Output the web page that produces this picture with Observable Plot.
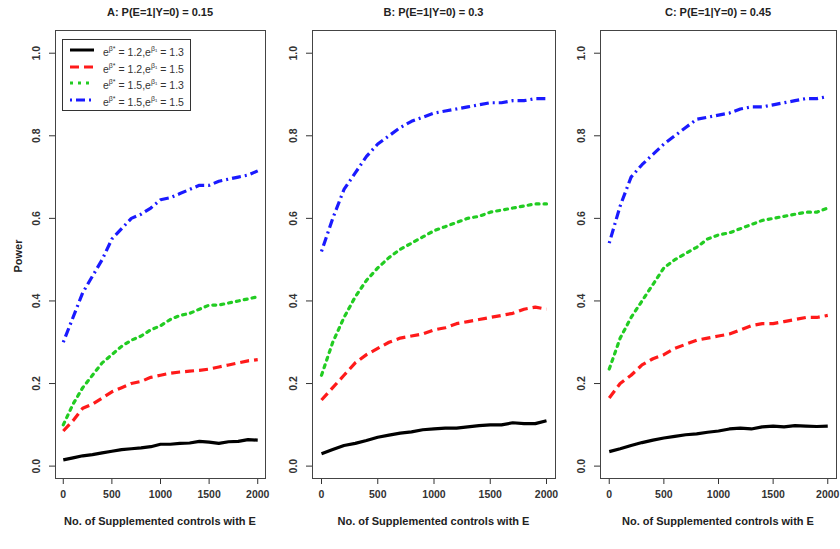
<!DOCTYPE html>
<html><head><meta charset="utf-8">
<script src="https://cdn.jsdelivr.net/npm/d3@7"></script>
<script src="https://cdn.jsdelivr.net/npm/@observablehq/plot@0.6"></script>
<style>
body{margin:0;background:#fff;font-family:"Liberation Sans",Arial,sans-serif;}
#wrap{position:relative;width:840px;height:549px;overflow:hidden;}
.t{position:absolute;font-weight:bold;font-size:11px;color:#222;white-space:nowrap;transform:translateX(-50%);}
#legend{position:absolute;left:62px;top:39px;border:1px solid #333;background:#fff;padding:2px 6px 2px 6px;font-size:10.5px;color:#333;line-height:13px;}
#legend div{display:flex;align-items:center;}
#legend svg{margin-right:8px}
</style></head><body>
<div id="wrap"></div>
<script>
const xs = d3.range(0, 2001, 100)
const series = ["s1", "s2", "s3", "s4"]
const seriesLabels = [
  ["1.2", "1.3"], ["1.2", "1.5"], ["1.5", "1.3"], ["1.5", "1.5"]
]
const panelTitles = ["A: P(E=1|Y=0) = 0.15", "B: P(E=1|Y=0) = 0.3", "C: P(E=1|Y=0) = 0.45"]
const panelA = [
  [0.015,0.02,0.025,0.028,0.032,0.036,0.04,0.042,0.044,0.047,0.053,0.053,0.055,0.056,0.06,0.058,0.055,0.059,0.06,0.064,0.063],
  [0.085,0.11,0.14,0.15,0.165,0.18,0.19,0.2,0.205,0.215,0.22,0.225,0.228,0.23,0.232,0.235,0.24,0.245,0.25,0.255,0.258],
  [0.1,0.15,0.19,0.22,0.25,0.27,0.29,0.305,0.315,0.33,0.34,0.355,0.365,0.37,0.38,0.39,0.39,0.395,0.4,0.405,0.41],
  [0.3,0.36,0.42,0.46,0.5,0.55,0.575,0.6,0.61,0.625,0.645,0.65,0.66,0.67,0.68,0.68,0.69,0.695,0.7,0.705,0.715]
]
const panelB = [
  [0.03,0.04,0.05,0.055,0.062,0.07,0.075,0.08,0.083,0.088,0.09,0.092,0.092,0.095,0.098,0.1,0.1,0.105,0.103,0.103,0.11],
  [0.16,0.19,0.22,0.25,0.27,0.285,0.3,0.31,0.315,0.32,0.33,0.335,0.345,0.35,0.355,0.36,0.365,0.37,0.38,0.385,0.38],
  [0.22,0.3,0.36,0.41,0.45,0.48,0.505,0.525,0.54,0.555,0.57,0.58,0.59,0.6,0.605,0.615,0.62,0.625,0.63,0.635,0.635],
  [0.52,0.6,0.67,0.71,0.75,0.78,0.8,0.82,0.835,0.845,0.855,0.86,0.865,0.87,0.875,0.88,0.88,0.885,0.885,0.89,0.89]
]
const panelC = [
  [0.035,0.042,0.05,0.057,0.063,0.068,0.072,0.076,0.078,0.082,0.085,0.09,0.092,0.09,0.095,0.097,0.095,0.098,0.097,0.096,0.097],
  [0.165,0.2,0.22,0.245,0.26,0.27,0.285,0.295,0.305,0.31,0.315,0.32,0.33,0.34,0.345,0.345,0.35,0.355,0.36,0.36,0.365],
  [0.235,0.31,0.36,0.4,0.44,0.48,0.5,0.515,0.53,0.55,0.56,0.565,0.575,0.585,0.595,0.6,0.605,0.61,0.615,0.615,0.625],
  [0.54,0.63,0.7,0.73,0.755,0.78,0.8,0.82,0.84,0.845,0.85,0.855,0.865,0.87,0.87,0.875,0.88,0.885,0.89,0.89,0.895]
]
const panels = [panelA, panelB, panelC]

const colors = ["#000000", "#ff1a1a", "#22cc22", "#1a1aff"]
const dashes = ["none", "9,5", "3,5", "2,4,9,4"]

// frame position of each panel [left, right]
const frames = [[55, 265], [312, 555], [600, 836]]
const wrap = document.getElementById("wrap")

panels.forEach((p, i) => {
  const [l, r] = frames[i]
  const left = l - 45
  const rows = p.flatMap((vals, k) => vals.map((v, j) => ({x: xs[j], y: v, s: k})))
  const chart = Plot.plot({
    width: r - left + 14, height: 549,
    marginLeft: 45, marginRight: 14, marginTop: 30, marginBottom: 71,
    style: {fontFamily: "Liberation Sans, Arial, sans-serif", fontSize: "10.5px", fontWeight: "bold", color: "#333", overflow: "visible"},
    x: {domain: [-80, 2080], ticks: [0, 500, 1000, 1500, 2000], tickFormat: d3.format("d"), label: null, tickSize: 6, tickPadding: 6},
    y: {domain: [-0.03, 1.055], ticks: [0, 0.2, 0.4, 0.6, 0.8, 1.0], tickFormat: d3.format(".1f"), label: null, tickRotate: -90, tickSize: 6, tickPadding: 10},
    marks: [
      Plot.frame({stroke: "#444"}),
      ...[0, 1, 2, 3].map(k => Plot.line(rows.filter(d => d.s === k), {
        x: "x", y: "y", stroke: colors[k], strokeWidth: 3.2,
        strokeDasharray: dashes[k], strokeLinecap: k === 2 ? "round" : "butt"
      }))
    ]
  })
  chart.style.position = "absolute"
  chart.style.left = left + "px"
  chart.style.top = "0px"
  wrap.appendChild(chart)

  const t = document.createElement("div")
  t.className = "t"; t.textContent = panelTitles[i]
  t.style.left = ((l + r) / 2) + "px"; t.style.top = "6px"
  wrap.appendChild(t)
  const xl = document.createElement("div")
  xl.className = "t"; xl.textContent = "No. of Supplemented controls with E"
  xl.style.left = ((l + r) / 2) + "px"; xl.style.top = "515px"
  wrap.appendChild(xl)
})

const yl = document.createElement("div")
yl.className = "t"; yl.textContent = "Power"
yl.style.left = "18px"; yl.style.top = "250px"; yl.style.transform = "translateX(-50%) rotate(-90deg)"
wrap.appendChild(yl)

const lg = document.createElement("div")
lg.id = "legend"
seriesLabels.forEach((s, k) => {
  const row = document.createElement("div")
  row.innerHTML = `<svg width="26" height="8"><line x1="1" x2="25" y1="4" y2="4" stroke="${colors[k]}" stroke-width="3" stroke-dasharray="${dashes[k]}"/></svg>` +
    `<span>e<sup style="font-size:7px">β*</sup> = ${s[0]},e<sup style="font-size:7px">β₁</sup> = ${s[1]}</span>`
  lg.appendChild(row)
})
wrap.appendChild(lg)
</script>
</body></html>
